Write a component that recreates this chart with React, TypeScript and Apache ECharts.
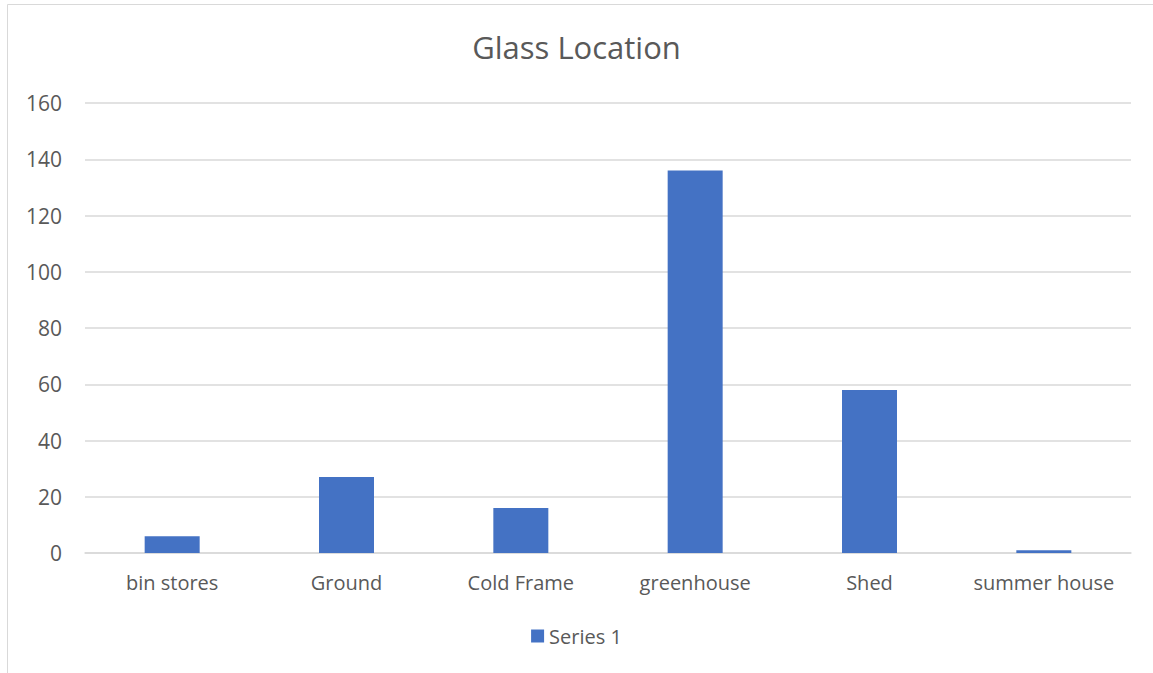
import React, { useEffect, useRef } from "react";
import * as echarts from "echarts";

const categories = ["bin stores", "Ground", "Cold Frame", "greenhouse", "Shed", "summer house"];
const series1 = [6, 27, 16, 136, 58, 1];
const yTicks = { min: 0, max: 160, interval: 20 };

export default function App() {
  const ref = useRef<HTMLDivElement>(null);
  useEffect(() => {
    if (!ref.current) return;
    const chart = echarts.init(ref.current, null, { renderer: "svg" });
    const font = "'Open Sans', 'Noto Sans', sans-serif";
    chart.setOption({
      animation: false,
      backgroundColor: "#ffffff",
      textStyle: { fontFamily: font },
      title: {
        text: "Glass Location",
        left: "center",
        top: 26,
        textStyle: { fontFamily: font, fontSize: 31, fontWeight: "normal", color: "#595959" },
      },
      graphic: [
        {
          type: "rect",
          shape: { x: 7.5, y: 4.5, width: 1200, height: 700 },
          style: { fill: "none", stroke: "#d9d9d9", lineWidth: 1 },
          silent: true,
        },
      ],
      grid: { left: 85, right: 22, top: 103, bottom: 120, containLabel: false },
      legend: {
        data: ["Series 1"],
        bottom: 22,
        left: "center",
        itemWidth: 13,
        itemHeight: 13,
        itemGap: 6,
        icon: "rect",
        textStyle: { fontFamily: font, fontSize: 20, color: "#595959" },
      },
      xAxis: {
        type: "category",
        data: categories,
        axisLine: { lineStyle: { color: "#d9d9d9", width: 1.5 } },
        axisTick: { show: false },
        axisLabel: {
          color: "#595959",
          fontSize: 20,
          fontFamily: font,
          margin: 19,
          interval: 0,
          hideOverlap: false,
        },
      },
      yAxis: {
        type: "value",
        min: yTicks.min,
        max: yTicks.max,
        interval: yTicks.interval,
        axisLine: { show: false },
        axisTick: { show: false },
        splitLine: { lineStyle: { color: "#d9d9d9", width: 1.5 } },
        axisLabel: { color: "#595959", fontSize: 21, fontFamily: font, margin: 23 },
      },
      series: [
        {
          name: "Series 1",
          type: "bar",
          data: series1,
          barWidth: 55,
          itemStyle: { color: "#4472c4" },
        },
      ],
    });
    return () => chart.dispose();
  }, []);
  return (
    <div
      ref={ref}
      style={{ position: "absolute", left: 0, top: 0, width: 1153, height: 673 }}
    />
  );
}
